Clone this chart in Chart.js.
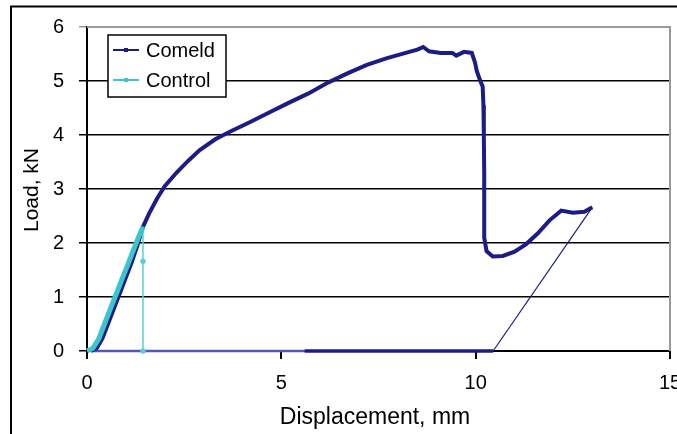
<!DOCTYPE html>
<html>
<head>
<meta charset="utf-8">
<script src="https://cdn.jsdelivr.net/npm/chart.js@4/dist/chart.umd.min.js"></script>
<style>
  body { margin: 0; background: #fff; }
  canvas { display: block; }
</style>
</head>
<body>
<canvas id="loadChart" width="677" height="434"></canvas>
<script>
// values (displacement in mm, load in kN)
const cornweldX = [0.10, 0.25, 0.40, 0.55, 0.70, 0.85, 1.00, 1.15, 1.30, 1.44, 1.60, 1.80, 2.00, 2.30, 2.60, 2.90, 3.30, 3.70, 4.20, 4.70, 5.20, 5.70, 6.20, 6.70, 7.20, 7.70, 8.20, 8.50, 8.65, 8.80, 9.10, 9.40, 9.50, 9.70, 9.90, 9.98, 10.03, 10.12, 10.18, 10.20, 10.21, 10.22, 10.22, 10.22, 10.28, 10.44, 10.70, 11.00, 11.30, 11.60, 11.90, 12.20, 12.50, 12.80, 13.00];
const cornweldY = [0.00, 0.05, 0.24, 0.52, 0.80, 1.08, 1.36, 1.64, 1.96, 2.30, 2.55, 2.82, 3.05, 3.30, 3.52, 3.72, 3.92, 4.07, 4.24, 4.42, 4.60, 4.77, 4.97, 5.14, 5.30, 5.42, 5.52, 5.58, 5.63, 5.55, 5.52, 5.52, 5.47, 5.54, 5.52, 5.35, 5.18, 5.00, 4.90, 4.55, 4.00, 3.30, 2.60, 2.10, 1.85, 1.75, 1.76, 1.84, 1.98, 2.18, 2.42, 2.60, 2.56, 2.58, 2.66];
const cornweldReturnX = [13.00, 10.45, 5.60, 0.10];
const cornweldReturnY = [2.66, 0.00, 0.00, 0.00];

const controlX = [0.00, 0.15, 0.30, 0.45, 0.60, 0.75, 0.90, 1.05, 1.20, 1.35, 1.44];
const controlY = [0.00, 0.05, 0.22, 0.50, 0.78, 1.05, 1.33, 1.60, 1.88, 2.15, 2.30];
const controlDropX = [1.44, 1.44, 1.44];
const controlDropY = [2.30, 1.66, 0.00];

const legendLabels = ['Comeld', 'Control'];
const xTicks = [0, 5, 10, 15];
const yTicks = [0, 1, 2, 3, 4, 5, 6];

const navy = '#1c1c86';
const cyan = '#3cc6cc';

function pts(xs, ys) {
    return xs.map((x, i) => ({ x: x, y: ys[i] }));
}

Chart.defaults.font.family = '"Liberation Sans", Arial, sans-serif';
Chart.defaults.color = '#000';

// white page, outer frame, plot border, titles and the boxed legend
const framePlugin = {
    id: 'frame',
    beforeDraw(chart) {
        const c = chart.ctx;
        c.save();
        c.fillStyle = '#fff';
        c.fillRect(0, 0, chart.width, chart.height);
        c.strokeStyle = '#000';
        c.lineWidth = 2;
        c.beginPath();
        c.moveTo(11, chart.height);
        c.lineTo(11, 6.5);
        c.lineTo(chart.width, 6.5);
        c.stroke();
        c.restore();
    },
    beforeDatasetsDraw(chart) {
        const a = chart.chartArea;
        const c = chart.ctx;
        c.save();
        c.strokeStyle = '#9a9a9a';
        c.lineWidth = 2;
        c.beginPath();
        c.moveTo(a.left, a.top);
        c.lineTo(a.right, a.top);
        c.lineTo(a.right, a.bottom);
        c.stroke();
        c.restore();
    },
    afterDraw(chart) {
        const c = chart.ctx;
        c.save();
        c.fillStyle = '#000';
        c.font = '23px "Liberation Sans", Arial, sans-serif';
        c.textAlign = 'center';
        c.textBaseline = 'alphabetic';
        c.fillText('Displacement, mm', 375, 424);

        c.translate(38, 190);
        c.rotate(-Math.PI / 2);
        c.font = '21px "Liberation Sans", Arial, sans-serif';
        c.fillText('Load, kN', 0, 0);
        c.restore();

        // legend box
        c.save();
        c.fillStyle = '#fff';
        c.fillRect(108, 35, 118, 62);
        c.strokeStyle = '#000';
        c.lineWidth = 1.5;
        c.strokeRect(108, 35, 118, 62);
        const colors = [navy, cyan];
        legendLabels.forEach((label, i) => {
            const y = 50 + i * 30;
            c.strokeStyle = colors[i];
            c.lineWidth = 2;
            c.beginPath();
            c.moveTo(113, y);
            c.lineTo(139, y);
            c.stroke();
            c.fillStyle = colors[i];
            c.fillRect(124, y - 2, 4, 4);
            c.fillStyle = '#000';
            c.font = '20px "Liberation Sans", Arial, sans-serif';
            c.textAlign = 'left';
            c.textBaseline = 'middle';
            c.fillText(label, 146, y + 1);
        });
        c.restore();
    }
};

const ctx = document.getElementById('loadChart').getContext('2d');
new Chart(ctx, {
    type: 'scatter',
    data: {
        datasets: [
            {
                label: legendLabels[1],
                data: pts(controlX, controlY),
                showLine: true,
                clip: false,
                borderColor: cyan,
                backgroundColor: cyan,
                borderWidth: 5,
                pointRadius: 0,
                order: 0
            },
            {
                label: 'control drop',
                data: pts(controlDropX, controlDropY),
                showLine: true,
                clip: false,
                borderColor: '#5ccfd2',
                backgroundColor: '#5ccfd2',
                borderWidth: 1.5,
                pointRadius: [0, 2, 2],
                order: 1
            },
            {
                label: legendLabels[0],
                data: pts(cornweldX, cornweldY),
                showLine: true,
                clip: false,
                borderColor: navy,
                backgroundColor: navy,
                borderWidth: 4,
                pointRadius: 0,
                order: 2
            },
            {
                label: 'unload',
                data: pts(cornweldReturnX, cornweldReturnY),
                showLine: true,
                clip: false,
                borderColor: navy,
                backgroundColor: navy,
                borderWidth: 1.2,
                pointRadius: 0,
                segment: {
                    borderWidth: s => s.p0DataIndex === 1 ? 3.5 : (s.p0DataIndex === 2 ? 2.5 : 1.2),
                    borderColor: s => s.p0DataIndex === 2 ? '#5656b4' : navy
                },
                order: 3
            }
        ]
    },
    options: {
        responsive: false,
        animation: false,
        layout: { padding: { top: 22, right: 7, left: 0, bottom: 0 } },
        plugins: {
            legend: { display: false },
            tooltip: { enabled: false }
        },
        scales: {
            x: {
                type: 'linear',
                min: xTicks[0],
                max: xTicks[xTicks.length - 1],
                afterBuildTicks: s => { s.ticks = xTicks.map(v => ({ value: v })); },
                afterFit: s => { s.height = 83; s.paddingLeft = 0; s.paddingRight = 0; },
                border: { color: '#000', width: 2 },
                grid: { drawOnChartArea: false, color: '#000', lineWidth: 2, tickLength: 8 },
                ticks: { font: { size: 20 }, padding: 12, color: '#000' }
            },
            y: {
                type: 'linear',
                min: yTicks[0],
                max: yTicks[yTicks.length - 1],
                afterBuildTicks: s => { s.ticks = yTicks.map(v => ({ value: v })); },
                afterFit: s => { s.width = 87; },
                border: { color: '#000', width: 2 },
                grid: {
                    color: c => c.tick && c.tick.value === 6 ? '#9a9a9a' : '#000',
                    lineWidth: 1.5,
                    tickLength: 8
                },
                ticks: { font: { size: 20 }, padding: 15, color: '#000' }
            }
        }
    },
    plugins: [framePlugin]
});
</script>
</body>
</html>
